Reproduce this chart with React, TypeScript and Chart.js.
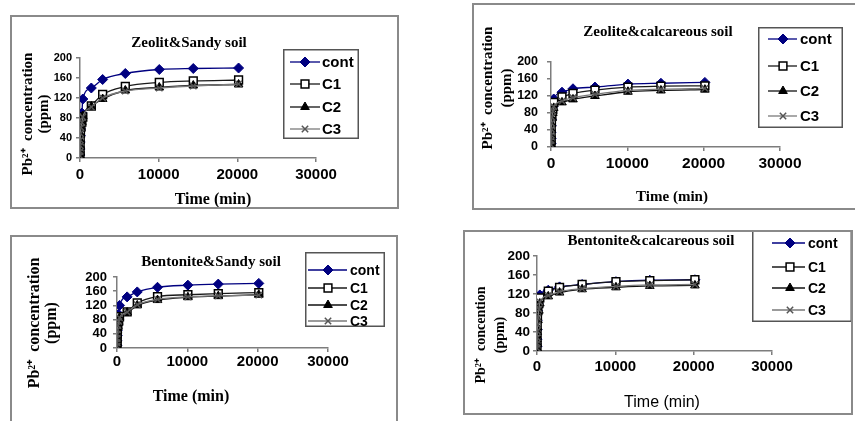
import React, { useEffect, useRef } from "react";
import { Chart, registerables } from "chart.js";
import { drawPoint } from "chart.js/helpers";

Chart.register(...registerables);

// ---------- data ----------
const times = [5, 10, 20, 30, 60, 120, 240, 360, 1440, 2880, 5760, 10080, 14400, 20160];
const seriesNames = ["cont", "C1", "C2", "C3"];
const xMin = 0;
const xMax = 30000;
const xStep = 10000;
const yMin = 0;
const yMax = 200;
const yStep = 40;

// Zeolit & Sandy soil
const zeoSandyCont = [6, 18, 32, 45, 58, 72, 90, 118, 140, 157, 169, 177, 179, 180];
const zeoSandyC1 = [5, 14, 26, 38, 50, 62, 72, 82, 104, 127, 143, 151, 154, 156];
const zeoSandyC2 = [4, 12, 24, 35, 48, 60, 72, 84, 103, 118, 135, 141, 145, 147];
const zeoSandyC3 = [4, 13, 25, 36, 49, 61, 71, 82, 102, 120, 134, 140, 144, 148];

// Zeolite & calcareous soil
const zeoCalcCont = [8, 20, 35, 50, 65, 80, 95, 113, 129, 137, 141, 148, 150, 152];
const zeoCalcC1 = [6, 16, 30, 44, 58, 72, 88, 105, 118, 126, 134, 141, 143, 144];
const zeoCalcC2 = [5, 14, 26, 40, 54, 68, 80, 92, 105, 112, 120, 130, 133, 135];
const zeoCalcC3 = [5, 15, 28, 42, 56, 70, 84, 95, 108, 116, 124, 133, 136, 138];

// Bentonite & Sandy soil
const benSandyCont = [8, 20, 35, 50, 65, 80, 95, 120, 144, 158, 171, 177, 180, 182];
const benSandyC1 = [6, 16, 28, 40, 52, 64, 76, 88, 102, 127, 145, 150, 153, 156];
const benSandyC2 = [5, 14, 26, 38, 50, 62, 74, 86, 100, 120, 135, 143, 146, 150];
const benSandyC3 = [5, 15, 27, 39, 51, 63, 75, 85, 101, 122, 137, 144, 147, 149];

// Bentonite & calcareous soil
const benCalcCont = [10, 25, 45, 65, 85, 100, 110, 118, 128, 135, 140, 146, 149, 150];
const benCalcC1 = [8, 20, 38, 55, 70, 85, 100, 112, 126, 134, 140, 146, 148, 150];
const benCalcC2 = [5, 15, 25, 40, 50, 65, 85, 100, 115, 123, 130, 134, 137, 138];
const benCalcC3 = [6, 16, 28, 42, 55, 70, 88, 103, 117, 125, 131, 136, 139, 140];

const titles = [
  "Zeolit&Sandy soil",
  "Zeolite&calcareous soil",
  "Bentonite&Sandy soil",
  "Bentonite&calcareous soil",
];
const xTitle = "Time (min)";
const yTitleA = ["Pb²⁺  concentration", "(ppm)"];
const yTitleB = ["Pb²⁺  concention", "(ppm)"];

// ---------- styles ----------
const SERIF = "'Liberation Serif', 'Times New Roman', serif";
const SANS = "'Liberation Sans', Arial, sans-serif";

const seriesStyles = [
  { line: "#000080", pointStyle: "rectRot", radius: 5, bg: "#000080", border: "#000080", bw: 1 },
  { line: "#1a1a1a", pointStyle: "rect", radius: 5.5, bg: "#ffffff", border: "#000000", bw: 1.5 },
  { line: "#111111", pointStyle: "triangle", radius: 5, bg: "#000000", border: "#000000", bw: 1 },
  { line: "#7a7a7a", pointStyle: "crossRot", radius: 4.5, bg: "#555555", border: "#555555", bw: 1.5 },
];

type PanelCfg = {
  box: { left: number; top: number; width: number; height: number };
  plot: { left: number; top: number; right: number; bottom: number };
  series: number[][];
  title: { text: string; x: number; y: number; size: number };
  xTitle: { x: number; y: number; font: string };
  yTitle: { lines: string[]; x: number[]; yc: number; size: number };
  legend: { x: number; y: number; w: number; h: number; rows: number[]; l1: number; l2: number; mx: number; tx: number; size: number };
  yTickSize: number;
  xTickSize: number;
  yPad: number;
  xPad: number;
};

const panels: PanelCfg[] = [
  {
    box: { left: 10, top: 15, width: 389, height: 194 },
    plot: { left: 70, top: 43, right: 306, bottom: 143 },
    series: [zeoSandyCont, zeoSandyC1, zeoSandyC2, zeoSandyC3],
    title: { text: titles[0], x: 179, y: 28, size: 15 },
    xTitle: { x: 203, y: 185, font: `bold 16px ${SERIF}` },
    yTitle: { lines: yTitleA, x: [18, 34], yc: 99, size: 15 },
    legend: { x: 273, y: 34, w: 76, h: 90, rows: [47, 69, 92, 114], l1: 280, l2: 310, mx: 295, tx: 312, size: 15 },
    yTickSize: 11,
    xTickSize: 15,
    yPad: 4,
    xPad: 4,
  },
  {
    box: { left: 472, top: 3, width: 390, height: 207 },
    plot: { left: 79, top: 59, right: 308, bottom: 144 },
    series: [zeoCalcCont, zeoCalcC1, zeoCalcC2, zeoCalcC3],
    title: { text: titles[1], x: 186, y: 29, size: 15 },
    xTitle: { x: 200, y: 194, font: `bold 15px ${SERIF}` },
    yTitle: { lines: yTitleA, x: [16, 35], yc: 85, size: 15 },
    legend: { x: 286, y: 24, w: 85, h: 101, rows: [36, 63, 88, 113], l1: 296, l2: 325, mx: 311, tx: 328, size: 15 },
    yTickSize: 12.5,
    xTickSize: 15.5,
    yPad: 9,
    xPad: 3,
  },
  {
    box: { left: 10, top: 235, width: 388, height: 200 },
    plot: { left: 107, top: 42, right: 318, bottom: 113 },
    series: [benSandyCont, benSandyC1, benSandyC2, benSandyC3],
    title: { text: titles[2], x: 201, y: 27, size: 15 },
    xTitle: { x: 181, y: 162, font: `bold 16px ${SERIF}` },
    yTitle: { lines: yTitleA, x: [25, 42], yc: 88, size: 16 },
    legend: { x: 295, y: 17, w: 80, h: 75, rows: [35, 53, 70, 86], l1: 298, l2: 337, mx: 318, tx: 340, size: 14 },
    yTickSize: 13,
    xTickSize: 15,
    yPad: 6,
    xPad: 1,
  },
  {
    box: { left: 463, top: 230, width: 390, height: 185 },
    plot: { left: 74, top: 26, right: 309, bottom: 121 },
    series: [benCalcCont, benCalcC1, benCalcC2, benCalcC3],
    title: { text: titles[3], x: 188, y: 11, size: 15 },
    xTitle: { x: 199, y: 173, font: `16px ${SANS}` },
    yTitle: { lines: yTitleB, x: [18, 37], yc: 105, size: 14 },
    legend: { x: 289, y: 0, w: 100, h: 92, rows: [13, 37, 58, 80], l1: 309, l2: 342, mx: 327, tx: 345, size: 14 },
    yTickSize: 13.5,
    xTickSize: 15,
    yPad: 3,
    xPad: 3,
  },
];

const decorPlugin = {
  id: "decor",
  afterDraw(chart: any, _args: any, opts: any) {
    const p: PanelCfg = opts.panel;
    const ctx: CanvasRenderingContext2D = chart.ctx;
    ctx.save();
    ctx.fillStyle = "#000";
    ctx.textAlign = "center";
    ctx.textBaseline = "middle";
    // title
    ctx.font = `bold ${p.title.size}px ${SERIF}`;
    ctx.fillText(p.title.text, p.title.x, p.title.y);
    // x title
    ctx.font = p.xTitle.font;
    ctx.fillText(xTitle, p.xTitle.x, p.xTitle.y);
    // y title
    ctx.font = `bold ${p.yTitle.size}px ${SERIF}`;
    p.yTitle.lines.forEach((ln, i) => {
      ctx.save();
      ctx.translate(p.yTitle.x[i], p.yTitle.yc);
      ctx.rotate(-Math.PI / 2);
      ctx.fillText(ln, 0, 0);
      ctx.restore();
    });
    // legend
    const L = p.legend;
    ctx.strokeStyle = "#555";
    ctx.lineWidth = 1.5;
    ctx.strokeRect(L.x + 0.75, L.y + 0.75, L.w - 1.5, L.h - 1.5);
    chart.data.datasets.forEach((ds: any, i: number) => {
      const y = L.rows[i];
      ctx.strokeStyle = ds.borderColor;
      ctx.lineWidth = 1.3;
      ctx.beginPath();
      ctx.moveTo(L.l1, y);
      ctx.lineTo(L.l2, y);
      ctx.stroke();
      ctx.fillStyle = ds.pointBackgroundColor;
      ctx.strokeStyle = ds.pointBorderColor;
      ctx.lineWidth = ds.pointBorderWidth;
      drawPoint(ctx, { pointStyle: ds.pointStyle, rotation: 0, radius: ds.pointRadius, borderWidth: ds.pointBorderWidth }, L.mx, y);
      ctx.fillStyle = "#000";
      ctx.font = `bold ${L.size}px ${SANS}`;
      ctx.textAlign = "left";
      ctx.fillText(ds.label, L.tx, y + 1);
    });
    ctx.restore();
  },
};

function Panel({ cfg }: { cfg: PanelCfg }) {
  const ref = useRef<HTMLCanvasElement | null>(null);
  useEffect(() => {
    if (!ref.current) return;
    const { width: W, height: H } = cfg.box;
    const axisColor = "#7d7d7d";
    const chart = new Chart(ref.current, {
      type: "line",
      data: {
        datasets: cfg.series.map((vals, i) => {
          const st = seriesStyles[i];
          return {
            label: seriesNames[i],
            data: times.map((t, k) => ({ x: t, y: vals[k] })),
            order: seriesNames.length - 1 - i,
            borderColor: st.line,
            borderWidth: 1.3,
            pointStyle: st.pointStyle,
            pointRadius: st.radius,
            pointBackgroundColor: st.bg,
            pointBorderColor: st.border,
            pointBorderWidth: st.bw,
            cubicInterpolationMode: "monotone",
            fill: false,
          } as any;
        }),
      },
      plugins: [decorPlugin as any],
      options: {
        animation: false,
        responsive: false,
        maintainAspectRatio: false,
        devicePixelRatio: 1,
        events: [],
        layout: {
          padding: { left: 0, top: cfg.plot.top, right: W - cfg.plot.right, bottom: 0 },
        },
        plugins: {
          legend: { display: false },
          title: { display: false },
          tooltip: { enabled: false },
          decor: { panel: cfg },
        } as any,
        scales: {
          x: {
            type: "linear",
            min: xMin,
            max: xMax,
            ticks: {
              stepSize: xStep,
              color: "#000",
              font: { family: SANS, size: cfg.xTickSize, weight: "bold" },
              padding: cfg.xPad,
              maxRotation: 0,
              autoSkip: false,
              callback: (v: any) => String(v),
            },
            grid: { display: true, drawOnChartArea: false, drawTicks: true, tickLength: 4, color: axisColor, lineWidth: 1.5 },
            border: { display: true, color: axisColor, width: 1.5 },
            afterFit: (s: any) => {
              s.height = H - cfg.plot.bottom;
            },
          },
          y: {
            type: "linear",
            min: yMin,
            max: yMax,
            ticks: {
              stepSize: yStep,
              color: "#000",
              font: { family: SANS, size: cfg.yTickSize, weight: "bold" },
              padding: cfg.yPad,
              autoSkip: false,
              callback: (v: any) => String(v),
            },
            grid: { display: true, drawOnChartArea: false, drawTicks: true, tickLength: 4, color: axisColor, lineWidth: 1.5 },
            border: { display: true, color: axisColor, width: 1.5 },
            afterFit: (s: any) => {
              s.width = cfg.plot.left;
            },
          },
        },
      } as any,
    });
    return () => chart.destroy();
  }, [cfg]);

  const { left, top, width, height } = cfg.box;
  return (
    <div style={{ position: "absolute", left, top, width, height }}>
      <canvas ref={ref} width={width} height={height} style={{ position: "absolute", left: 0, top: 0, width, height }} />
      <div
        style={{
          position: "absolute",
          left: 0,
          top: 0,
          width,
          height,
          border: "2px solid #8a8a8a",
          boxSizing: "border-box",
          pointerEvents: "none",
        }}
      />
    </div>
  );
}

export default function App() {
  return (
    <div
      style={{
        position: "absolute",
        left: 0,
        top: 0,
        width: 855,
        height: 421,
        overflow: "hidden",
        background: "#ffffff",
      }}
    >
      {panels.map((p, i) => (
        <Panel key={i} cfg={p} />
      ))}
    </div>
  );
}
